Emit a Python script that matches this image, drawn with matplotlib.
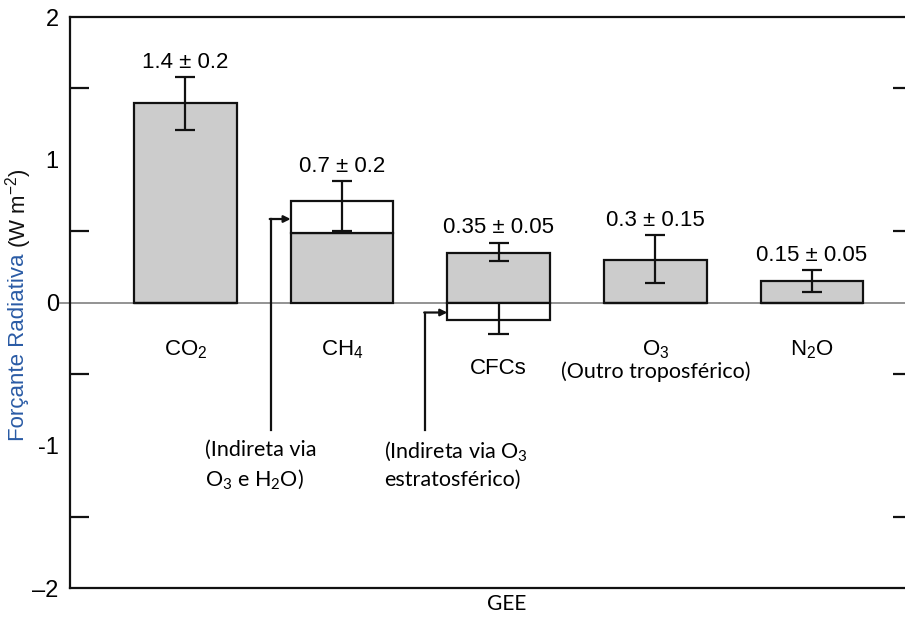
import matplotlib
matplotlib.use("Agg")
import matplotlib.pyplot as plt
import numpy as np

# data
gases = ["CO$\\mathregular{_2}$", "CH$\\mathregular{_4}$", "CFCs", "O$\\mathregular{_3}$", "N$\\mathregular{_2}$O"]
direct = [1.40, 0.49, 0.35, 0.30, 0.15]
err_low = [0.19, 0.0, 0.06, 0.16, 0.075]
err_high = [0.18, 0.0, 0.07, 0.17, 0.075]
indirect = [0.0, 0.22, -0.12, 0.0, 0.0]
ind_err_low = [0.0, 0.21, 0.10, 0.0, 0.0]
ind_err_high = [0.0, 0.14, 0.0, 0.0, 0.0]
value_labels = ["1.4 ± 0.2", "0.7 ± 0.2", "0.35 ± 0.05", "0.3 ± 0.15", "0.15 ± 0.05"]
notes = ["(Indireta via\nO$\\mathregular{_3}$ e H$\\mathregular{_2}$O)",
         "(Indireta via O$\\mathregular{_3}$\nestratosférico)"]
ytick_vals = [-2, -1, 0, 1, 2]
ytick_labels = ["–2", "-1", "0", "1", "2"]

plt.rcParams["font.family"] = ["Liberation Sans", "DejaVu Sans"]

fig = plt.figure(figsize=(9.05, 6.17), dpi=100)
ax = fig.add_axes([0.0773, 0.047, 0.9307, 0.9254])

x = np.arange(len(gases))
w = 0.655
gray = "#cccccc"

ax.bar(x, direct, w, color=gray, edgecolor="#111111", linewidth=1.6, zorder=3)
# indirect parts: stacked on top of CH4, below zero for CFCs
base = [d if i > 0 else 0 for d, i in zip(direct, indirect)]
ax.bar(x, indirect, w, bottom=base, color="white", edgecolor="#111111", linewidth=1.6, zorder=3)

# error bars
top_err = []
for i in range(len(x)):
    if indirect[i] > 0:
        yc = direct[i] + indirect[i]
        lo, hi = ind_err_low[i], ind_err_high[i]
    else:
        yc = direct[i]
        lo, hi = err_low[i], err_high[i]
    ax.errorbar(x[i], yc, yerr=[[lo], [hi]], fmt="none", ecolor="#111111",
                elinewidth=1.6, capsize=7, capthick=1.6, zorder=4)
    top_err.append(yc + hi)
    if indirect[i] < 0:
        lo_end = indirect[i] - ind_err_low[i]
        ax.vlines(x[i], lo_end, 0, color="#111111", lw=1.6, zorder=4)
        ax.hlines(lo_end, x[i] - 0.065, x[i] + 0.065, color="#111111", lw=1.6, zorder=4)

for xi, t, lab in zip(x, top_err, value_labels):
    ax.annotate(lab, (xi, t), xytext=(0, 3), textcoords="offset points",
                ha="center", va="bottom", fontsize=16)

# zero line
ax.axhline(0, xmin=-0.012, xmax=1, color="#808080", lw=1.2, clip_on=False, zorder=2)

# category labels
cat_y = [-0.33, -0.33, -0.46, -0.33, -0.33]
for xi, g, yy in zip(x, gases, cat_y):
    ax.text(xi, yy, g, ha="center", va="center", fontsize=16)
ax.text(x[3], -0.485, "(Outro troposférico)", ha="center", va="center",
        fontsize=15.5, family="Lato")

# arrows to the indirect parts
arrow_x = [0.544, 1.53]
arrow_y = [0.585, -0.07]
for k, i in enumerate([1, 2]):
    ax.plot([arrow_x[k], arrow_x[k]], [-0.89, arrow_y[k]], color="#111111", lw=1.6, zorder=4)
    ax.annotate("", xy=(x[i] - w / 2, arrow_y[k]), xytext=(arrow_x[k] - 0.005, arrow_y[k]),
                arrowprops=dict(arrowstyle="-|>", color="#111111", lw=1.6, mutation_scale=10,
                                shrinkA=0, shrinkB=0), zorder=4)
ax.text(0.128, -0.96, notes[0], ha="left", va="top", fontsize=15.5, family="Lato", linespacing=1.42)
ax.text(1.267, -0.96, notes[1], ha="left", va="top", fontsize=15.5, family="Lato", linespacing=1.42)

ax.set_xlim(-0.736, 4.64)
ax.set_ylim(-2, 2)
ax.set_xticks([])
ax.set_yticks(ytick_vals)
ax.set_yticklabels(ytick_labels, fontsize=17)
ax.set_yticks([-1.5, -1, -0.5, 0.5, 1, 1.5], minor=True)
ax.tick_params(axis="y", which="major", length=0, pad=8)
ax.tick_params(axis="y", which="minor", length=14, width=1.6, direction="in",
               left=True, right=True, color="#111111")
for s in ax.spines.values():
    s.set_linewidth(1.6)
    s.set_color("#111111")

ax.set_xlabel("GEE", fontsize=15, family="Lato")
ax.xaxis.set_label_coords(0.518, -0.01)

# y label: blue text + black units
yl = fig.text(0.02, 0.285, "Forçante Radiativa ", rotation=90, ha="center", va="bottom",
              fontsize=16, color="#2a5ba5")
ax.annotate("(W m$\\mathregular{^{-2}}$)", xy=(0.5, 1), xycoords=yl, rotation=90,
            ha="center", va="bottom", fontsize=16, color="#111111", annotation_clip=False)

fig.savefig("out.png", dpi=100)
